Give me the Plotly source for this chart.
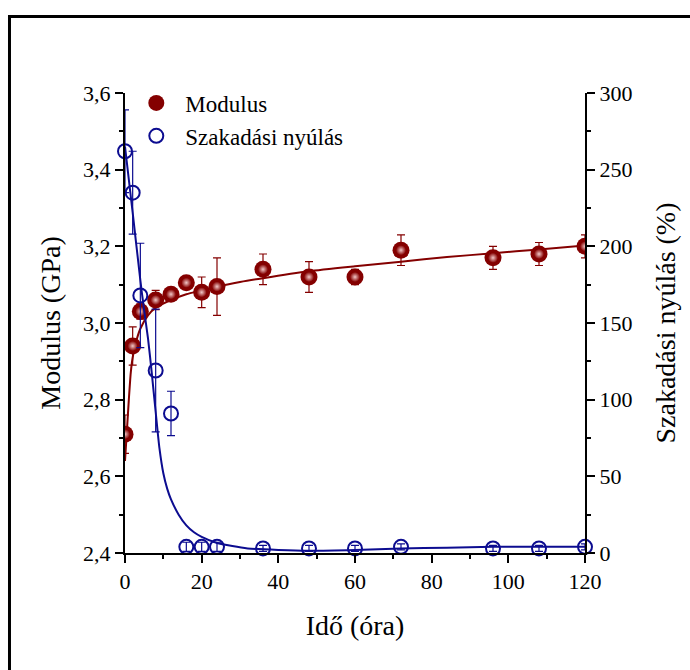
import plotly.graph_objects as go

# Measured points: modulus (GPa) vs. ageing time (hours)
time_mod = [0, 2, 4, 8, 12, 16, 20, 24, 36, 48, 60, 72, 96, 108, 120]
modulus = [2.71, 2.94, 3.03, 3.06, 3.075, 3.105, 3.08, 3.095, 3.14, 3.12, 3.12, 3.19, 3.17, 3.18, 3.20]
modulus_err = [0.05, 0.05, 0.02, 0.025, 0.01, 0.015, 0.04, 0.075, 0.04, 0.04, 0.02, 0.04, 0.03, 0.03, 0.03]

# Measured points: elongation at break (%) vs. ageing time (hours)
time_el = [0, 2, 4, 8, 12, 16, 20, 24, 36, 48, 60, 72, 96, 108, 120]
elongation = [262, 235, 168, 119, 91, 4, 4, 4, 3, 3, 3, 4, 3, 3, 4]
elongation_err = [27, 27, 34, 40, 14.5, 3, 3, 3, 2, 2, 2, 2, 2, 2, 2]

# Fitted trend curves
fit_mod_t = [0, 0.5, 1, 1.5, 2, 3, 4, 6, 8, 12, 16, 20, 24, 30, 36, 48, 60, 72, 84, 96, 108, 120]
fit_mod = [2.64, 2.72, 2.80, 2.87, 2.91, 2.955, 2.985, 3.02, 3.04, 3.06, 3.075, 3.085, 3.095,
           3.107, 3.117, 3.135, 3.148, 3.16, 3.172, 3.182, 3.192, 3.202]

fit_el_t = [0, 2, 4, 5, 6, 7, 8, 9, 10, 11, 12, 14, 16, 18, 20, 24, 28, 32, 40, 48, 60, 72, 84, 96, 108, 120]
fit_el = [265, 222, 178, 158, 140, 117, 92, 68, 52, 42, 35, 25, 18, 13.5, 10.5, 6.5, 4.5, 3, 2, 1.5,
          2, 3, 3.5, 4, 4, 4]

RED = "#840000"
BLUE = "#0c0c90"
FONT = "Liberation Serif, Times New Roman, serif"

fig = go.Figure()

fig.add_trace(go.Scatter(
    x=fit_mod_t, y=fit_mod, mode="lines", line=dict(color=RED, width=2, shape="spline", smoothing=0.6),
    showlegend=False, hoverinfo="skip"))
fig.add_trace(go.Scatter(
    x=fit_el_t, y=fit_el, yaxis="y2", mode="lines",
    line=dict(color=BLUE, width=2, shape="spline", smoothing=0.6),
    showlegend=False, hoverinfo="skip"))

fig.add_trace(go.Scatter(
    x=time_mod, y=modulus, mode="markers", name="Modulus",
    marker=dict(size=17, color=RED, line=dict(width=0)),
    error_y=dict(type="data", array=modulus_err, color=RED, thickness=1.2, width=4)))
# soft highlight giving the spheres a shaded look (gradient colour is the centre for radial)
fig.add_trace(go.Scatter(
    x=time_mod, y=modulus, mode="markers", showlegend=False, hoverinfo="skip",
    marker=dict(size=10, color=RED,
                gradient=dict(type="radial", color="#f2c8c8"), line=dict(width=0))))

fig.add_trace(go.Scatter(
    x=time_el, y=elongation, yaxis="y2", mode="markers", name="Szakadási nyúlás",
    cliponaxis=False,
    marker=dict(symbol="circle-open", size=14, color=BLUE, line=dict(width=2, color=BLUE)),
    error_y=dict(type="data", array=elongation_err, color=BLUE, thickness=1.2, width=4)))

axis_common = dict(showgrid=False, zeroline=False, showline=True, linecolor="black", linewidth=2,
                   tickcolor="black", tickwidth=1.5, tickfont=dict(family=FONT, size=22, color="black"))

fig.update_layout(
    width=690, height=670,
    margin=dict(l=125, r=105, t=93, b=117),
    paper_bgcolor="white", plot_bgcolor="white",
    separators=", ",
    font=dict(family=FONT, color="black"),
    xaxis=dict(range=[0, 120], dtick=20, ticks="outside", ticklen=8,
               minor=dict(ticks="outside", ticklen=4, dtick=10, tickcolor="black"),
               title=dict(text="Idő (óra)", font=dict(family=FONT, size=28), standoff=22),
               **axis_common),
    xaxis2=dict(range=[0, 120], overlaying="x", side="top", anchor="y", dtick=10, ticks="inside",
                ticklen=5, showticklabels=False, showgrid=False, zeroline=False, showline=True,
                linecolor="black", linewidth=2, tickcolor="black", tickwidth=1.5),
    yaxis=dict(range=[2.4, 3.6], dtick=0.2, tickformat=".1f", ticks="outside", ticklen=8,
               minor=dict(ticks="outside", ticklen=4, dtick=0.1, tickcolor="black"),
               title=dict(text="Modulus (GPa)", font=dict(family=FONT, size=28), standoff=14),
               **axis_common),
    yaxis2=dict(range=[0, 300], dtick=50, overlaying="y", side="right", anchor="x",
                ticks="outside", ticklen=8,
                minor=dict(ticks="outside", ticklen=4, dtick=25, tickcolor="black"),
                title=dict(text="Szakadási nyúlás (%)", font=dict(family=FONT, size=28), standoff=24),
                **axis_common),
    legend=dict(x=0.005, y=1.025, xanchor="left", yanchor="top", bgcolor="rgba(0,0,0,0)",
                itemwidth=48, font=dict(family=FONT, size=23, color="black"), tracegroupgap=0),
    showlegend=True,
)

# outer frame around the figure
fig.add_shape(type="rect", xref="paper", yref="paper",
              x0=-0.2511, x1=1.26, y0=-0.28, y1=1.1663,
              line=dict(color="black", width=3), fillcolor="rgba(0,0,0,0)", layer="above")

fig.write_html("out.html")
